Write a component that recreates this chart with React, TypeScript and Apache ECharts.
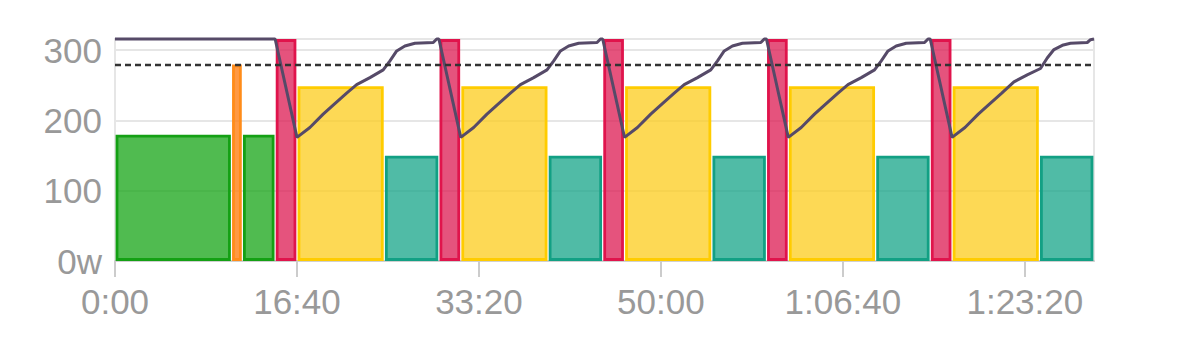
import React, { useEffect, useRef } from 'react';
import * as echarts from 'echarts';

// Workout segments (seconds, watts, zone index)
const segDurations = [640, 60, 180, 120, 480, 300, 120, 480, 300, 120, 480, 300, 120, 480, 300, 120, 480, 300];
const segPower = [180, 280, 180, 316, 249, 150, 316, 249, 150, 316, 249, 150, 316, 249, 150, 316, 249, 150];
const segZone = [1, 3, 1, 4, 2, 0, 4, 2, 0, 4, 2, 0, 4, 2, 0, 4, 2, 0];

// zone colours: recovery(teal), endurance(green), tempo(yellow), threshold(orange), vo2(red)
const zoneStroke = ['#12a084', '#14a014', '#ffcc00', '#ff8c1a', '#e0144c'];
const zoneFill = ['rgba(22,164,136,0.75)', 'rgba(22,164,22,0.75)', 'rgba(252,204,28,0.75)', 'rgba(255,128,20,0.8)', 'rgba(220,26,82,0.75)'];

// W' balance style line (time s, value on watt scale)
const lineTimes = [
  0, 880, 1000, 1071, 1144, 1199, 1273, 1328, 1401, 1474, 1511, 1548, 1593, 1648, 1749, 1768,
  1780, 1900, 1971, 2044, 2099, 2173, 2228, 2301, 2374, 2411, 2448, 2493, 2548, 2649, 2668,
  2680, 2800, 2871, 2944, 2999, 3073, 3128, 3201, 3274, 3311, 3348, 3393, 3448, 3549, 3568,
  3580, 3700, 3771, 3844, 3899, 3973, 4028, 4101, 4174, 4211, 4248, 4293, 4348, 4449, 4468,
  4480, 4600, 4671, 4744, 4799, 4873, 4940, 5013, 5086, 5123, 5160, 5206, 5251, 5343, 5361, 5380,
];
const lineValues = [
  316, 316, 176, 190, 209, 222, 239, 251, 261, 272, 285, 299, 306, 310, 311, 316,
  316, 176, 190, 209, 222, 239, 251, 261, 272, 285, 299, 306, 310, 311, 316,
  316, 176, 190, 209, 222, 239, 251, 261, 272, 285, 299, 306, 310, 311, 316,
  316, 176, 190, 209, 222, 239, 251, 261, 272, 285, 299, 306, 310, 311, 316,
  316, 176, 190, 209, 222, 239, 255, 265, 274, 289, 301, 307, 310, 311, 315, 316,
];

const ftp = 280;
const xMax = 5380;
const yMax = 316;
const xTicks = [0, 1000, 2000, 3000, 4000, 5000];
const yTicks = [0, 100, 200, 300];

function fmtTime(s: number): string {
  const h = Math.floor(s / 3600);
  const m = Math.floor((s % 3600) / 60);
  const sec = Math.round(s % 60);
  const ss = String(sec).padStart(2, '0');
  if (h > 0) return `${h}:${String(m).padStart(2, '0')}:${ss}`;
  return `${m}:${ss}`;
}

export default function App() {
  const ref = useRef<HTMLDivElement>(null);

  useEffect(() => {
    if (!ref.current) return;
    const chart = echarts.init(ref.current, undefined, { renderer: 'svg' });

    const barData: number[][] = [];
    let t = 0;
    for (let i = 0; i < segDurations.length; i++) {
      barData.push([t, t + segDurations[i], segPower[i], segZone[i]]);
      t += segDurations[i];
    }
    const lineData = lineTimes.map((tt, i) => [tt, lineValues[i]]);

    const font = "'Liberation Sans', Arial, Helvetica, sans-serif";

    chart.setOption({
      animation: false,
      grid: {
        left: 115,
        right: 85,
        top: 39,
        bottom: 100,
        show: true,
        borderColor: '#e6e6e6',
        borderWidth: 2,
        backgroundColor: 'transparent',
      },
      xAxis: {
        type: 'value',
        min: 0,
        max: xMax,
        interval: 1000,
        axisLine: { show: true, lineStyle: { color: '#d0d0d0', width: 2 } },
        axisTick: { show: true, length: 16, lineStyle: { color: '#cccccc', width: 2 }, customValues: xTicks },
        splitLine: { show: false },
        axisLabel: {
          customValues: xTicks,
          formatter: (v: number) => fmtTime(v),
          color: '#999999',
          fontSize: 35,
          fontFamily: font,
          margin: 23,
        },
      },
      yAxis: {
        type: 'value',
        min: 0,
        max: yMax,
        interval: 100,
        axisLine: { show: false },
        axisTick: { show: false },
        splitLine: { show: true, lineStyle: { color: '#e6e6e6', width: 2 } },
        axisLabel: {
          customValues: yTicks,
          formatter: (v: number) => (v === 0 ? '0w' : String(v)),
          color: '#999999',
          fontSize: 35,
          fontFamily: font,
          margin: 13,
        },
      },
      series: [
        {
          type: 'custom',
          z: 2,
          data: barData,
          encode: { x: [0, 1], y: 2 },
          renderItem: (params: any, api: any) => {
            const start = api.value(0);
            const end = api.value(1);
            const p = api.value(2);
            const zone = api.value(3);
            const tl = api.coord([start, p]);
            const br = api.coord([end, 0]);
            const x = tl[0] + 2;
            const w = br[0] - tl[0] - 4;
            const y = tl[1] + 1.5;
            const h = br[1] - tl[1] - 3;
            return {
              type: 'rect',
              shape: { x, y, width: w, height: h },
              style: { fill: zoneFill[zone], stroke: zoneStroke[zone], lineWidth: 2.8 },
            };
          },
        },
        {
          type: 'line',
          z: 4,
          data: lineData,
          showSymbol: false,
          clip: false,
          lineStyle: { color: '#564a68', width: 3 },
          markLine: {
            silent: true,
            symbol: 'none',
            label: { show: false },
            lineStyle: { color: '#333333', type: [6, 4], width: 2.4 },
            data: [{ yAxis: ftp }],
          },
        },
      ],
    });

    return () => chart.dispose();
  }, []);

  return (
    <div
      ref={ref}
      style={{ position: 'fixed', left: 0, top: 0, width: 1179, height: 361, background: '#fff' }}
    />
  );
}
